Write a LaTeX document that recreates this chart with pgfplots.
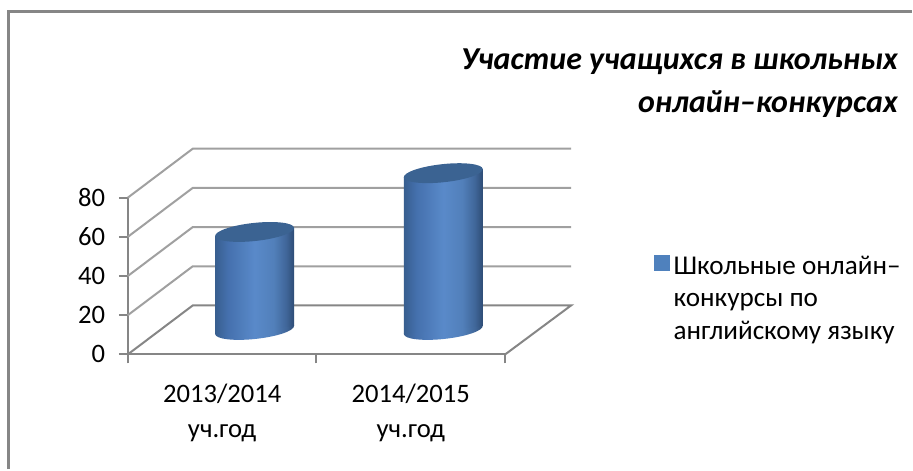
\documentclass[border=0pt]{standalone}
\usepackage{pgfplots}
\pgfplotsset{compat=1.18}
\usepackage{fontspec}
\setmainfont{Carlito}
\definecolor{fr}{HTML}{868686}
\definecolor{wall}{HTML}{A0A0A0}
\definecolor{cyltopc}{HTML}{3B6392}
\definecolor{legblue}{HTML}{4F81BD}
\pgfdeclarehorizontalshading{cyl}{100bp}{
 rgb(0bp)=(0.22,0.37,0.56);
 rgb(25bp)=(0.22,0.37,0.56);
 rgb(33bp)=(0.27,0.44,0.68);
 rgb(50bp)=(0.35,0.54,0.79);
 rgb(62bp)=(0.32,0.50,0.73);
 rgb(70bp)=(0.25,0.40,0.60);
 rgb(75bp)=(0.18,0.30,0.46);
 rgb(100bp)=(0.18,0.30,0.46)}
\pgfdeclareplotmark{cyltopm}{%
  \pgftransformrotate{6.1}%
  \pgfpathellipse{\pgfpointorigin}{\pgfpoint{29.8pt}{0pt}}{\pgfpoint{0pt}{6.8pt}}%
  \pgfsetfillcolor{cyltopc}\pgfusepathqfill}
\pgfdeclareplotmark{cylbotm}{%
  \pgftransformrotate{6.1}%
  \pgfpathellipse{\pgfpointorigin}{\pgfpoint{29.8pt}{0pt}}{\pgfpoint{0pt}{6.8pt}}%
  \pgfshadepath{cyl}{0}\pgfusepath{discard}}
\begin{document}
\begin{tikzpicture}[x=1pt,y=1pt]
\path[fill=white] (0,0) rectangle (684.75pt,352.5pt);
\draw[fr,line width=2.25pt] (6.75pt,0) -- (6.75pt,343.5pt) -- (684.75pt,343.5pt);
\begin{axis}[
 at={(96pt,86.25pt)},anchor=south west,
 scale only axis,width=283.5pt,height=117.75pt,
 xmin=0,xmax=2,ymin=0,ymax=80,
 clip=false,clip mode=individual,
 axis lines=left,
 axis line style={-,draw=fr,line width=1.5pt},
 tick align=outside,
 tick style={draw=fr,line width=1.5pt},
 ytick={0,20,40,60,80},
 xtick={0.5,1.5},
 xticklabels={{2013/2014\\уч.год},{2014/2015\\уч.год}},
 major x tick style={draw=none},
 minor xtick={0,1,2},
 major tick length=6.75pt,
 minor tick length=6.75pt,
 xticklabel style={align=center,font=\fontsize{20}{26.5}\selectfont,yshift=-12pt},
 yticklabel style={font=\fontsize{20}{24}\selectfont,xshift=-6.75pt},
 /pgf/number format/assume math mode=true,
 title={Участие учащихся в школьных\\онлайн--конкурсах},
 title style={at={(axis description cs:2.0525,1.928)},anchor=north east,align=right,
   font=\fontsize{24}{32}\selectfont\bfseries\itshape},
 legend style={at={(axis description cs:1.399,0.645)},anchor=north west,draw=none,fill=none,
   font=\fontsize{20.4}{24.3}\selectfont,cells={align=left,anchor=north west},inner sep=0pt},
 legend cell align=left,
]
\addlegendimage{legend image code/.code={
  \path[draw=none] (0pt,0pt) rectangle (11.25pt,0pt);
  \fill[legblue,overlay] (-1pt,21.1pt) rectangle (10.25pt,32.35pt);}}
\addlegendentry{Школьные онлайн--\\конкурсы по\\английскому языку}
% back wall and side wall (depth offset 0.344 x units, 24.97 y units)
\addplot[wall,line width=1.5pt,forget plot] coordinates {(0,20)(0.344,44.97)(2.349,44.97)};
\addplot[wall,line width=1.5pt,forget plot] coordinates {(0,40)(0.344,64.97)(2.349,64.97)};
\addplot[wall,line width=1.5pt,forget plot] coordinates {(0,60)(0.344,84.97)(2.349,84.97)};
\addplot[wall,line width=1.5pt,forget plot] coordinates {(0,80)(0.344,104.97)(2.349,104.97)};
\addplot[fr,line width=1.5pt,forget plot] coordinates {(0,0)(0.344,24.97)(2.349,24.97)(2,0)};
% cylinders: values 50 and 80
\addplot[only marks,mark=cylbotm,xshift=24.4pt,yshift=18.4pt,forget plot] coordinates {(0.5,0)};
\addplot[ybar,bar shift=0pt,bar width=59.3pt,draw=none,shading=cyl,forget plot,
  shift={(95.3pt,18.4pt)},yslant=0.101,xshift=-70.9pt] coordinates {(0.5,50)};
\addplot[only marks,mark=cyltopm,xshift=24.4pt,yshift=18.4pt,forget plot] coordinates {(0.5,50)};
\addplot[only marks,mark=cylbotm,xshift=24.4pt,yshift=18.4pt,forget plot] coordinates {(1.5,0)};
\addplot[ybar,bar shift=0pt,bar width=59.3pt,draw=none,shading=cyl,forget plot,
  shift={(237pt,18.4pt)},yslant=0.101,xshift=-212.6pt] coordinates {(1.5,80)};
\addplot[only marks,mark=cyltopm,xshift=24.4pt,yshift=18.4pt,forget plot] coordinates {(1.5,80)};
\end{axis}
\end{tikzpicture}
\end{document}
